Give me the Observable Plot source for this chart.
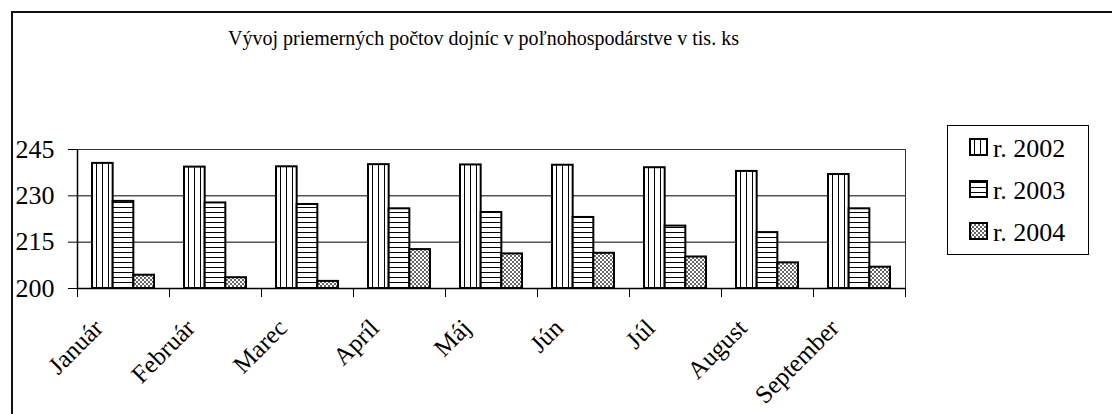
<!DOCTYPE html>
<html><head><meta charset="utf-8">
<script src="https://cdn.jsdelivr.net/npm/d3@7"></script>
<script src="https://cdn.jsdelivr.net/npm/@observablehq/plot@0.6"></script>
<style>
body{margin:0;background:#fff;}
#wrap{position:relative;width:1112px;height:414px;overflow:hidden;font-family:"Liberation Serif","Times New Roman",serif;background:#fff;}
#wrap .layer{position:absolute;left:0;top:0;}
</style></head><body>
<svg width="0" height="0" style="position:absolute">
<defs>
<pattern id="p2002" patternUnits="userSpaceOnUse" width="6" height="6">
<rect width="6" height="6" fill="#fff"/><line x1="3.5" y1="0" x2="3.5" y2="6" stroke="#000" stroke-width="1"/>
</pattern>
<pattern id="p2003" patternUnits="userSpaceOnUse" width="5" height="5">
<rect width="5" height="5" fill="#fff"/><line x1="0" y1="2.5" x2="5" y2="2.5" stroke="#000" stroke-width="1"/>
</pattern>
<pattern id="p2004" patternUnits="userSpaceOnUse" width="4" height="4">
<rect width="4" height="4" fill="#fff"/><path d="M0,0L4,4M4,0L0,4" stroke="#222" stroke-width="0.7"/>
</pattern>
</defs>
</svg>
<div id="wrap"></div>
<script>
const titleText = "Vývoj priemerných počtov dojníc v poľnohospodárstve v tis. ks";
const months = ["Január","Február","Marec","Apríl","Máj","Jún","Júl","August","September"];
const years = ["r. 2002","r. 2003","r. 2004"];
const v2002 = [240.5, 239.3, 239.4, 240.1, 240.0, 239.9, 239.1, 237.9, 236.9];
const v2003 = [228.2, 227.7, 227.2, 225.8, 224.6, 223.0, 220.2, 218.1, 225.8];
const v2004 = [204.3, 203.5, 202.3, 212.6, 211.2, 211.4, 210.2, 208.3, 206.9];
const yTicks = [200, 215, 230, 245];
const patterns = ["url(#p2002)","url(#p2003)","url(#p2004)"];

const yMin = yTicks[0], yMax = yTicks[yTicks.length-1];
const series = [v2002, v2003, v2004];
const rows = months.flatMap((m,i) => years.map((y,j) => ({month:m, year:y, value:series[j][i]})));

const W = 1112, H = 414;
const M = {marginLeft:77, marginRight:207, marginTop:149, marginBottom:126};
const font = '"Liberation Serif","Times New Roman",serif';
const wrap = d3.select("#wrap");

// outer border
wrap.append("div").style("position","absolute").style("left","11px").style("top","11px")
  .style("width","1300px").style("height","600px")
  .style("border-left","2px solid #111").style("border-top","2px solid #111");

// title
wrap.append("div").text(titleText).style("position","absolute").style("left","0px").style("top","28px")
  .style("width","967px").style("text-align","center").style("font-size","20px").style("line-height","20px")
  .style("font-family",font).style("white-space","nowrap").style("color","#000");

const bg = Plot.plot({
  width: W, height: H, ...M,
  style: {background:"transparent", fontFamily:font, fontSize:"26px", color:"#000", overflow:"visible"},
  x: {domain:[0, months.length], axis:null},
  y: {domain:[yMin, yMax], axis:null},
  marks: [
    Plot.ruleY(yTicks.filter(t => t > yMin && t < yMax), {stroke:"#000", strokeWidth:1}),
    Plot.ruleY([yMax], {stroke:"#333", strokeWidth:1}),
    Plot.ruleX([months.length], {stroke:"#333", strokeWidth:1}),
    Plot.axisY(yTicks, {tickSize:9, tickPadding:14, fontSize:26, label:null, stroke:"#000"}),
    Plot.axisX(d3.range(months.length + 1), {tickSize:9, tickFormat:() => "", label:null, stroke:"#000"}),
    Plot.ruleX([0], {stroke:"#000", strokeWidth:1.5}),
    Plot.ruleY([yMin], {stroke:"#000", strokeWidth:1.5}),
    Plot.text(months, {x:(d,i) => i + 0.5, frameAnchor:"bottom", dx:-19, dy:41, rotate:-45,
      textAnchor:"end", fontSize:25, fill:"#000"})
  ]
});
bg.classList.add("layer");
wrap.node().appendChild(bg);

const bars = Plot.plot({
  width: W, height: H, ...M,
  style: {background:"transparent", overflow:"visible"},
  facet: {data: rows, x: "month"},
  fx: {domain: months, paddingInner: 0.326, paddingOuter: 0.163, axis: null, round: false, label: null},
  x: {domain: years, padding: 0, axis: null, round: false},
  y: {domain: [yMin, yMax], axis: null},
  color: {type: "ordinal", domain: years, range: patterns},
  marks: [
    Plot.barY(rows, {x:"year", y1: yMin, y2:"value", fill:"year", stroke:"#000", strokeWidth:2})
  ]
});
bars.classList.add("layer");
wrap.node().appendChild(bars);

// legend
const lg = wrap.append("svg").attr("width",143).attr("height",131)
  .style("position","absolute").style("left","947px").style("top","125px");
lg.append("rect").attr("x",0.5).attr("y",0.5).attr("width",141).attr("height",129)
  .attr("fill","#fff").attr("stroke","#000").attr("stroke-width",1);
years.forEach((y,i) => {
  lg.append("rect").attr("x",23).attr("y",14 + i*42).attr("width",17).attr("height",16)
    .attr("fill",patterns[i]).attr("stroke","#000").attr("stroke-width",2);
  lg.append("text").attr("x",46).attr("y",32 + i*42).attr("font-size",26)
    .attr("font-family",font).attr("fill","#000").text(y);
});
</script>
</body></html>
